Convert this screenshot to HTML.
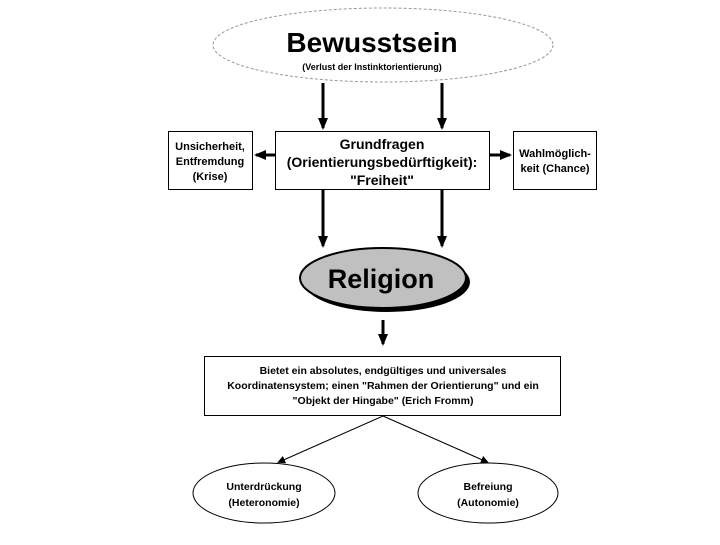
<!DOCTYPE html>
<html><head><meta charset="utf-8"><style>
html,body{margin:0;padding:0;background:#fff}
svg text{font-family:"Liberation Sans",Arial,sans-serif;font-weight:bold;fill:#000}
</style></head><body>
<svg width="720" height="540" viewBox="0 0 720 540" xmlns="http://www.w3.org/2000/svg">
<defs>
<marker id="a" markerWidth="8" markerHeight="8" refX="6" refY="4" orient="auto" markerUnits="userSpaceOnUse"><path d="M0,0 L8,4 L0,8 z" fill="#000"/></marker>
<marker id="b" markerWidth="12" markerHeight="10" refX="10" refY="5" orient="auto" markerUnits="userSpaceOnUse"><path d="M0,0 L12,5 L0,10 z" fill="#000"/></marker>
</defs>
<ellipse cx="383" cy="45" rx="170" ry="37" fill="#fff" stroke="#999" stroke-dasharray="3,2"/>
<text x="372" y="52" font-size="28" text-anchor="middle">Bewusstsein</text>
<text x="372" y="70" font-size="9" text-anchor="middle">(Verlust der Instinktorientierung)</text>
<g stroke="#000" stroke-width="3">
<line x1="323" y1="83" x2="323" y2="128" marker-end="url(#b)"/>
<line x1="442" y1="83" x2="442" y2="128" marker-end="url(#b)"/>
<line x1="323" y1="190" x2="323" y2="246" marker-end="url(#b)"/>
<line x1="442" y1="190" x2="442" y2="246" marker-end="url(#b)"/>
<line x1="275" y1="155" x2="256" y2="155" marker-end="url(#b)"/>
<line x1="490" y1="155" x2="510" y2="155" marker-end="url(#b)"/>
<line x1="383" y1="320" x2="383" y2="344" marker-end="url(#b)"/>
</g>
<rect x="275.5" y="131.5" width="214" height="58" fill="#fff" stroke="#000"/>
<text x="382" y="149" font-size="14" text-anchor="middle">Grundfragen</text>
<text x="382" y="167" font-size="14" text-anchor="middle">(Orientierungsbedürftigkeit):</text>
<text x="382" y="185" font-size="14" text-anchor="middle">"Freiheit"</text>
<rect x="168.5" y="131.5" width="84" height="58" fill="#fff" stroke="#000"/>
<text x="210" y="150" font-size="11" text-anchor="middle">Unsicherheit,</text>
<text x="210" y="165" font-size="11" text-anchor="middle">Entfremdung</text>
<text x="210" y="180" font-size="11" text-anchor="middle">(Krise)</text>
<rect x="513.5" y="131.5" width="83" height="58" fill="#fff" stroke="#000"/>
<text x="555" y="157" font-size="11" text-anchor="middle">Wahlmöglich-</text>
<text x="555" y="172" font-size="11" text-anchor="middle">keit (Chance)</text>
<ellipse cx="387" cy="282" rx="83" ry="30" fill="#000"/>
<ellipse cx="383" cy="278" rx="83" ry="30" fill="#c0c0c0" stroke="#000" stroke-width="2"/>
<text x="381" y="288" font-size="27" text-anchor="middle">Religion</text>
<rect x="204.5" y="356.5" width="356" height="59" fill="#fff" stroke="#000"/>
<text x="383" y="374" font-size="10.5" text-anchor="middle">Bietet ein absolutes, endgültiges und universales</text>
<text x="383" y="389" font-size="10.5" text-anchor="middle">Koordinatensystem; einen "Rahmen der Orientierung" und ein</text>
<text x="383" y="404" font-size="10.5" text-anchor="middle">"Objekt der Hingabe" (Erich Fromm)</text>
<g stroke="#000" stroke-width="1">
<line x1="383" y1="416" x2="279" y2="462" marker-end="url(#a)"/>
<line x1="383" y1="416" x2="487" y2="462" marker-end="url(#a)"/>
</g>
<ellipse cx="264" cy="493" rx="71" ry="30" fill="#fff" stroke="#000"/>
<text x="264" y="490" font-size="10.5" text-anchor="middle">Unterdrückung</text>
<text x="264" y="506" font-size="10.5" text-anchor="middle">(Heteronomie)</text>
<ellipse cx="488" cy="493" rx="70" ry="30" fill="#fff" stroke="#000"/>
<text x="488" y="490" font-size="10.5" text-anchor="middle">Befreiung</text>
<text x="488" y="506" font-size="10.5" text-anchor="middle">(Autonomie)</text>
</svg>
</body></html>
